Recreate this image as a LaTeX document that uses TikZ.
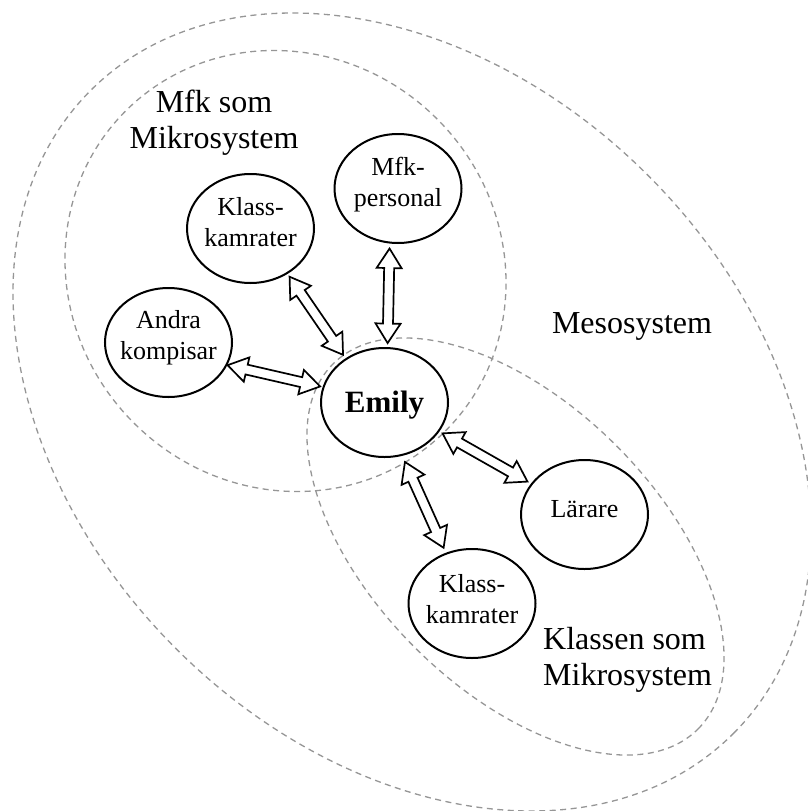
\documentclass[tikz,border=0pt]{standalone}
\usepackage{fontspec}
\setmainfont{Liberation Serif}
\usetikzlibrary{shapes.geometric,calc}

\definecolor{ringgray}{RGB}{150,150,150}

% two-headed hollow block arrow between two border points
\newcommand\hlen{19.5pt}
\newcommand\hwid{12.5pt}
\newcommand\swid{5pt}
\newcommand\dblarrow[6]{%
  \coordinate (s) at ($(#1.#2)!-#3pt!(#1.center)$);
  \coordinate (e) at ($(#4.#5)!-#6pt!(#4.center)$);
  \draw[blockarrow] (s)
    -- ($(s)!\hlen!(e)!\hwid!90:(e)$)
    -- ($(s)!\hlen!(e)!\swid!90:(e)$)
    -- ($(e)!\hlen!(s)!\swid!-90:(s)$)
    -- ($(e)!\hlen!(s)!\hwid!-90:(s)$)
    -- (e)
    -- ($(e)!\hlen!(s)!\hwid!90:(s)$)
    -- ($(e)!\hlen!(s)!\swid!90:(s)$)
    -- ($(s)!\hlen!(e)!\swid!-90:(e)$)
    -- ($(s)!\hlen!(e)!\hwid!-90:(e)$)
    -- cycle;
}

\tikzset{
  ring/.style={draw=ringgray, line width=1.3pt, dash pattern=on 6pt off 4.5pt},
  bubble/.style={ellipse, draw=black, line width=2pt, fill=white,
    minimum width=127pt, minimum height=109pt, inner sep=0pt},
  bubtxt/.style={inner sep=0pt, font=\fontsize{26}{31}\selectfont},
  systxt/.style={inner sep=0pt, font=\fontsize{32}{36}\selectfont},
  blockarrow/.style={draw=black, line width=1.7pt, fill=white, line join=miter},
}

\begin{document}
\begin{tikzpicture}[x=1pt, y=-1pt]
\useasboundingbox (0,0) rectangle (807,811);

% system boundaries
\draw[ring, rotate around={-45:(412,412)}] (412,412) ellipse [x radius=454.6pt, y radius=334.2pt];
\draw[ring, rotate around={-45:(285.5,271)}] (285.5,271) ellipse [x radius=226.2pt, y radius=214.7pt];
\draw[ring, rotate around={-45:(515.5,546.5)}] (515.5,546.5) ellipse [x radius=258.1pt, y radius=142.6pt];

% system names
\node[systxt] (mfksys) at (214,122.8) {\begin{tabular}{@{}c@{}}Mfk som\\Mikrosystem\end{tabular}};
\node[systxt, anchor=base] (meso) at (632,333) {Mesosystem};
\node[systxt, anchor=west] (klsys) at (543,660.1) {\begin{tabular}{@{}l@{}}Klassen som\\Mikrosystem\end{tabular}};

% people
\node[bubble, label={[bubtxt, yshift=4pt]center:{\begin{tabular}{@{}c@{}}Klass-\\kamrater\end{tabular}}}] (k1) at (250.5,228.5) {};
\node[bubble, label={[bubtxt, yshift=5pt]center:{\begin{tabular}{@{}c@{}}Andra\\kompisar\end{tabular}}}] (an) at (168.5,342.5) {};
\node[bubble, label={[bubtxt, yshift=4pt]center:{\begin{tabular}{@{}c@{}}Mfk-\\personal\end{tabular}}}] (mp) at (398,188.5) {};
\node[bubble, label={[bubtxt, yshift=-2.3pt, font=\fontsize{31}{36}\selectfont\bfseries]center:{\begin{tabular}{@{}c@{}}Emily\end{tabular}}}] (em) at (384.5,402.5) {};
\node[bubble, label={[bubtxt, yshift=3.7pt]center:{\begin{tabular}{@{}c@{}}Lärare\end{tabular}}}] (la) at (584.5,514.5) {};
\node[bubble, label={[bubtxt, yshift=2pt]center:{\begin{tabular}{@{}c@{}}Klass-\\kamrater\end{tabular}}}] (k2) at (472,603.5) {};

% relations
\dblarrow{k1}{-51.6}{3.5}{em}{131.1}{4.3}
\dblarrow{an}{-21.9}{0.2}{em}{166.5}{2.5}
\dblarrow{mp}{-98.5}{5}{em}{87.6}{4}
\dblarrow{em}{-28.7}{3.6}{la}{150.5}{4}
\dblarrow{em}{-71}{6.6}{k2}{117.6}{5.5}
\end{tikzpicture}
\end{document}
